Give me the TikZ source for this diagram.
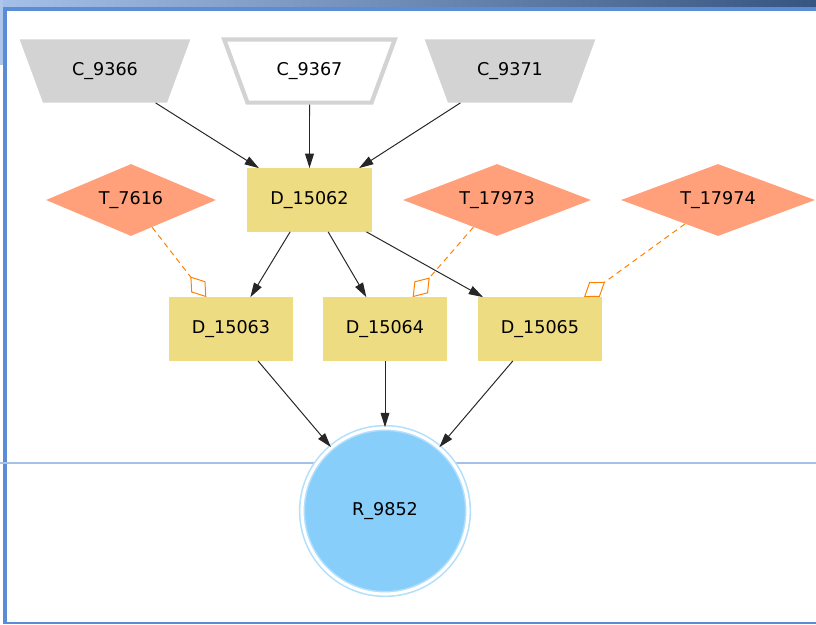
\documentclass[tikz,border=0pt]{standalone}
\usepackage{fontspec}
\setmainfont{DejaVu Sans}
\usetikzlibrary{shapes.geometric,arrows.meta}

\definecolor{tgrey}{HTML}{D3D3D3}
\definecolor{boxgold}{HTML}{EEDC82}
\definecolor{tsalmon}{HTML}{FFA07A}
\definecolor{rsky}{HTML}{87CEFA}
\definecolor{frameblue}{HTML}{5B8DD6}

\begin{document}
\begin{tikzpicture}[
x=0.025cm,
y=-0.025cm,
every node/.style={
  font=\fontsize{12.5}{14}\selectfont
  },
cls/.style={
  trapezium,
  shape border rotate=180,
  trapezium angle=62,
  trapezium stretches=true,
  minimum width=4.3cm,
  minimum height=1.58cm,
  fill=tgrey
  },
dec/.style={
  rectangle,
  minimum width=3.1cm,
  minimum height=1.58cm,
  fill=boxgold
  },
tst/.style={
  diamond,
  aspect=2.4,
  minimum width=4.25cm,
  minimum height=1.8cm,
  inner sep=1pt,
  fill=tsalmon
  },
res/.style={
  circle,
  minimum size=4.15cm,
  fill=rsky,
  draw=rsky!65,
  line width=1.1pt,
  double=white,
  double distance=2.2pt
  },
flow/.style={
  ->,
  draw=black!85,
  line width=0.7pt
  },
link/.style={
  -{Diamond[open,length=6.5mm,width=4.5mm]},
  draw=orange,
  line width=0.7pt,
  dash pattern=on 4pt off 3pt
  },
>={Triangle[length=3.6mm,width=2.2mm]}
]
\useasboundingbox (0,0) rectangle (816,625);

% frame
\shade[left color=frameblue!55, right color=frameblue!60!black] (0,0) rectangle (816,7);
\fill[frameblue!50] (0,0) rectangle (3,65);
\draw[frameblue, line width=2.5pt] (5,624) -- (5,9) -- (816,9);
\draw[frameblue, line width=1.5pt] (5,623) -- (816,623);
\draw[frameblue!55, line width=0.8pt] (0,463) -- (816,463);

% nodes
\node[cls] (c66) at (105,71) {C\_9366};
\node[cls, fill=white, draw=tgrey, line width=3pt] (c67) at (309.5,71) {C\_9367};
\node[cls] (c71) at (510,71) {C\_9371};

\node[tst] (t16) at (131,200) {T\_7616};
\node[dec] (d62) at (309.5,200) {D\_15062};
\node[tst, minimum width=4.7cm] (t73) at (497,200) {T\_17973};
\node[tst, minimum width=4.85cm] (t74) at (718,200) {T\_17974};

\node[dec] (d63) at (231,329) {D\_15063};
\node[dec] (d64) at (385,329) {D\_15064};
\node[dec] (d65) at (540,329) {D\_15065};

\node[res] (r52) at (385,511) {R\_9852};

% edges
\foreach \src in {c66,c67,c71}
  \draw[flow] (\src) -- (d62);

\foreach \dst in {d63,d64,d65}
{
  \draw[flow] (d62) -- (\dst);
  \draw[flow] (\dst) -- (r52);
}

\foreach \src/\dst in {t16/d63,t73/d64,t74/d65}
  \draw[link] (\src) -- (\dst);
\end{tikzpicture}
\end{document}
